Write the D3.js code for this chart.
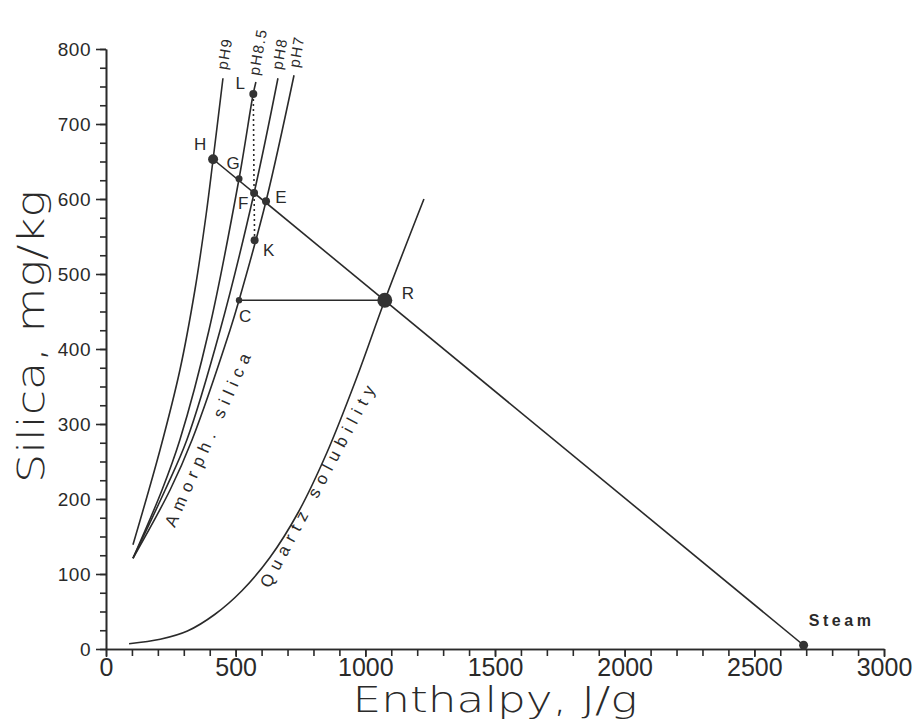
<!DOCTYPE html>
<html>
<head>
<meta charset="utf-8">
<script src="https://cdn.jsdelivr.net/npm/d3@7"></script>
<style>
  body { margin: 0; background: #fff; }
  svg { display: block; }
  .axis path, .axis line { stroke: #2a2a2a; stroke-width: 1.6; }
  .curve { fill: none; stroke: #2a2a2a; stroke-width: 1.6; }
</style>
</head>
<body>
<div class="vis"></div>
<script>
// amorphous silica solubility curves (enthalpy J/g, silica mg/kg)
const ph9H = [104, 208, 285, 343, 386, 413, 451]
const ph9Si = [139, 265, 372, 479, 579, 653, 761]
const ph85H = [104, 216, 285, 397, 513, 567, 578]
const ph85Si = [121, 212, 279, 425, 627, 739, 756]
const ph8H = [104, 228, 312, 440, 571, 663]
const ph8Si = [121, 212, 279, 425, 608, 761]
const ph7H = [104, 247, 332, 478, 513, 617, 725]
const ph7Si = [121, 212, 279, 425, 465, 597, 765]
const phNames = ['pH9', 'pH8.5', 'pH8', 'pH7']

// quartz solubility
const quartzH = [89, 209, 314, 419, 525, 632, 741, 852, 967, 1075, 1226]
const quartzSi = [7, 13, 24, 46, 78, 122, 182, 262, 362, 465, 600]

// named points
const pointNames = ['H', 'G', 'F', 'E', 'K', 'L', 'C', 'R', 'Steam']
const pointH = [413, 513, 571, 617, 573, 568, 513, 1075, 2690]
const pointSi = [653, 627, 608, 597, 545, 740, 465, 465, 5]

// ticks
const xTicks = [0, 500, 1000, 1500, 2000, 2500, 3000]
const yTicks = [0, 100, 200, 300, 400, 500, 600, 700, 800]

const W = 918
const H = 721
const svg = d3.select('.vis').append('svg').attr('width', W).attr('height', H)

const x = d3.scaleLinear().domain([0, 3000]).range([106, 884])
const y = d3.scaleLinear().domain([0, 800]).range([649, 49])

const ink = '#2a2a2a'
const zip = (a, b) => a.map((v, i) => [v, b[i]])

// axes
svg.append('g')
  .attr('class', 'axis')
  .attr('transform', `translate(0,${y(0)})`)
  .call(d3.axisBottom(x).tickValues(d3.range(0, 3001, 100)).tickSize(7).tickSizeOuter(0).tickFormat(''))
svg.append('g')
  .attr('class', 'axis x')
  .attr('transform', `translate(0,${y(0)})`)
  .call(d3.axisBottom(x).tickValues(xTicks).tickSize(8).tickSizeOuter(0).tickPadding(1).tickFormat(d3.format('d')))
  .call(g => g.selectAll('text')
    .attr('fill', ink)
    .style('font-family', '"Liberation Sans Narrow", "Arial Narrow", "Liberation Sans", sans-serif')
    .style('font-size', '25px'))

svg.append('g')
  .attr('class', 'axis')
  .attr('transform', `translate(${x(0)},0)`)
  .call(d3.axisLeft(y).tickValues(d3.range(0, 801, 25)).tickSize(6).tickSizeOuter(0).tickFormat(''))
svg.append('g')
  .attr('class', 'axis y')
  .attr('transform', `translate(${x(0)},0)`)
  .call(d3.axisLeft(y).tickValues(yTicks).tickSize(10).tickSizeOuter(0).tickPadding(5))
  .call(g => g.selectAll('text')
    .attr('fill', ink)
    .attr('dy', '0.36em')
    .style('font-family', '"Liberation Sans", Arial, sans-serif')
    .style('font-size', '19px')
    .style('letter-spacing', '0.5px'))
svg.selectAll('.axis .domain').attr('stroke-width', 1.8)

// axis titles
svg.append('text')
  .attr('x', x(1500))
  .attr('y', 712)
  .attr('text-anchor', 'middle')
  .attr('textLength', 285)
  .attr('lengthAdjust', 'spacingAndGlyphs')
  .attr('fill', ink)
  .style('font-family', '"DejaVu Sans", sans-serif')
  .style('font-weight', '200')
  .style('font-size', '36px')
  .text('Enthalpy,  J/g')

svg.append('text')
  .attr('transform', `translate(44,${(483 + 190) / 2}) rotate(-90)`)
  .attr('text-anchor', 'middle')
  .attr('textLength', 293)
  .attr('lengthAdjust', 'spacingAndGlyphs')
  .attr('fill', ink)
  .style('font-family', '"DejaVu Sans", sans-serif')
  .style('font-weight', '200')
  .style('font-size', '38px')
  .text('Silica,  mg/kg')

// curves
const line = d3.line()
  .x(d => x(d[0]))
  .y(d => y(d[1]))
  .curve(d3.curveCatmullRom.alpha(0.5))

const phCurves = [zip(ph9H, ph9Si), zip(ph85H, ph85Si), zip(ph8H, ph8Si), zip(ph7H, ph7Si)]
svg.selectAll('.ph')
  .data(phCurves)
  .enter()
  .append('path')
  .attr('class', 'curve ph')
  .attr('d', line)

svg.append('path')
  .attr('class', 'curve')
  .attr('d', line(zip(quartzH, quartzSi)))

// pH labels at the top of each curve
const phOffsets = [[4, -8], [3, -6], [4, -8], [5, -7]]
svg.selectAll('.phlabel')
  .data(phCurves)
  .enter()
  .append('text')
  .attr('class', 'phlabel')
  .attr('transform', (d, i) => {
    const top = d[d.length - 1]
    return `translate(${x(top[0]) + phOffsets[i][0]},${y(top[1]) + phOffsets[i][1]}) rotate(-80)`
  })
  .attr('fill', ink)
  .style('font-family', '"Liberation Sans", Arial, sans-serif')
  .style('font-size', '15px')
  .style('letter-spacing', '1.5px')
  .text((d, i) => phNames[i])

// mixing lines
const pt = name => {
  const i = pointNames.indexOf(name)
  return [pointH[i], pointSi[i]]
}
const straight = d3.line().x(d => x(d[0])).y(d => y(d[1]))
svg.append('path').attr('class', 'curve').attr('d', straight([pt('H'), pt('Steam')]))
svg.append('path').attr('class', 'curve').attr('d', straight([pt('C'), pt('R')]))
svg.append('path')
  .attr('class', 'curve')
  .attr('stroke-width', 2)
  .attr('stroke-dasharray', '2,3')
  .attr('d', straight([pt('L'), pt('F'), pt('K')]))

// points
const radius = { H: 5, G: 3.5, F: 4, E: 4, K: 4, L: 4, C: 3.2, R: 7.5, Steam: 4.5 }
const labelOffset = {
  H: [-13, -9], G: [-6, -10], F: [-11, 16], E: [15, 2], K: [14, 16],
  L: [-13, -5], C: [6, 22], R: [23, -1], Steam: [38, -19]
}
svg.selectAll('.pt')
  .data(pointNames)
  .enter()
  .append('circle')
  .attr('class', 'pt')
  .attr('cx', (d, i) => x(pointH[i]))
  .attr('cy', (d, i) => y(pointSi[i]))
  .attr('r', d => radius[d])
  .attr('fill', '#333')

svg.selectAll('.ptlabel')
  .data(pointNames)
  .enter()
  .append('text')
  .attr('class', 'ptlabel')
  .attr('x', (d, i) => x(pointH[i]) + labelOffset[d][0])
  .attr('y', (d, i) => y(pointSi[i]) + labelOffset[d][1])
  .attr('text-anchor', 'middle')
  .attr('fill', ink)
  .style('font-family', '"Liberation Sans", Arial, sans-serif')
  .style('font-size', d => (d === 'Steam' ? '16px' : '17px'))
  .style('font-weight', d => (d === 'Steam' ? 'bold' : 'normal'))
  .style('letter-spacing', d => (d === 'Steam' ? '3.5px' : '0px'))
  .text(d => d)

// curve captions
const captions = [
  { text: 'Amorph.  silica', h: 265, si: 161, angle: -66, len: 188 },
  { text: 'Quartz  solubility', h: 630, si: 80, angle: -62, len: 226 }
]
svg.selectAll('.caption')
  .data(captions)
  .enter()
  .append('text')
  .attr('class', 'caption')
  .attr('transform', d => `translate(${x(d.h)},${y(d.si)}) rotate(${d.angle})`)
  .attr('textLength', d => d.len)
  .attr('lengthAdjust', 'spacing')
  .attr('fill', ink)
  .style('font-family', '"Liberation Sans", Arial, sans-serif')
  .style('font-size', '17px')
  .text(d => d.text)
</script>
</body>
</html>
